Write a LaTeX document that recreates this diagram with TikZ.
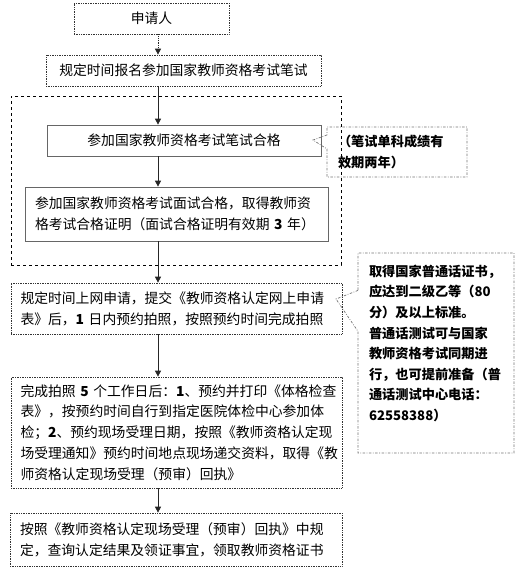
\documentclass[tikz,border=0pt]{standalone}
\usepackage{fontspec}
\setmainfont{Noto Sans CJK SC}
\usepackage{tikz}
\usetikzlibrary{arrows.meta, shapes.callouts, positioning}
\tikzset{>={Triangle[length=6pt,width=6pt]}}

\begin{document}
\begin{tikzpicture}[x=1pt, y=-1pt,
        dotbox/.style={draw=black!80, densely dotted, line width=.7pt, inner ysep=0pt},
        solidbox/.style={draw=black!60, line width=.7pt, inner ysep=0pt},
        txt/.style={font=\fontsize{13.8pt}{20.8pt}\selectfont, align=left},
        notebox/.style={rectangle callout, draw=black!55, line width=.7pt,
            dash pattern=on 2.5pt off 1.5pt on .8pt off 1.5pt, inner ysep=0pt,
            font=\bfseries\fontsize{13.2pt}{20.6pt}\selectfont, align=left},
        flow/.style={->, line width=.8pt, draw=black!85}]
        \useasboundingbox (0,0) rectangle (522,573);
        \coordinate (spine) at (158,0);
        \coordinate (tip1) at (313,140);
        \coordinate (tip2) at (336,299);

        % main steps
        \node[dotbox, txt, align=center, minimum width=155pt, minimum height=31pt] (apply) at (151.5,18.5) {申请人};
        \node[dotbox, txt, align=center, minimum width=275pt, minimum height=31pt] (signup) at (183.5,70.5) {规定时间报名参加国家教师资格考试笔试};
        \node[draw=black, dashed, line width=.7pt, minimum width=330pt, minimum height=169pt] (exam) at (176,180.5) {};
        \node[solidbox, txt, align=center, minimum width=274pt, minimum height=31pt] (written) at (184,140.5) {参加国家教师资格考试笔试合格};
        \node[solidbox, txt, text width=283pt, inner xsep=10pt, minimum height=54pt] (interview) at (176.5,214)
            {参加国家教师资格考试面试合格，取得教师资\\格考试合格证明（面试合格证明有效期~{\bfseries 3}~年）};
        \node[dotbox, txt, text width=312pt, inner xsep=9.5pt, minimum height=51pt] (online) at (176.5,308.5)
            {规定时间上网申请，提交《教师资格认定网上申请\\表》后，{\bfseries 1}~日内预约拍照，按照预约时间完成拍照};
        \node[dotbox, txt, text width=312pt, inner xsep=9.5pt, minimum height=111pt] (check) at (176.5,432.5)
            {完成拍照~{\bfseries 5}~个工作日后：{\bfseries 1}、预约并打印《体格检查\\表》，按预约时间自行到指定医院体检中心参加体\\检；{\bfseries 2}、预约现场受理日期，按照《教师资格认定现\\场受理通知》预约时间地点现场递交资料，取得《教\\师资格认定现场受理（预审）回执》};
        \node[dotbox, txt, text width=312pt, inner xsep=10pt, minimum height=53pt] (cert) at (176,539.5)
            {按照《教师资格认定现场受理（预审）回执》中规\\定，查询认定结果及领证事宜，领取教师资格证书};

        % notes
        \node[notebox, text width=118pt, inner xsep=11pt, minimum height=50pt,
            callout absolute pointer={(tip1)}, callout pointer width=14pt] (note1) at (397,152)
            {（笔试单科成绩有\\效期两年）};
        \node[notebox, text width=134pt, inner xsep=11pt, minimum height=200pt,
            callout absolute pointer={(tip2)}, callout pointer width=41pt] (note2) at (436,353)
            {取得国家普通话证书，\\应达到二级乙等（80\\分）及以上标准。\\普通话测试可与国家\\教师资格考试同期进\\行，也可提前准备（普\\通话测试中心电话：\\62558388）\\\mbox{}};

        % arrows
        \draw[flow, densely dotted] (apply.south -| spine) -- (signup.north -| spine);
        \draw[flow] (signup.south -| spine) -- (written.north -| spine);
        \draw[flow] (written.south -| spine) -- (interview.north -| spine);
        \draw[flow] (interview.south -| spine) -- (online.north -| spine);
        \draw[flow] (online.south -| spine) -- (check.north -| spine);
        \draw[flow] (check.south -| spine) -- (cert.north -| spine);
\end{tikzpicture}
\end{document}
